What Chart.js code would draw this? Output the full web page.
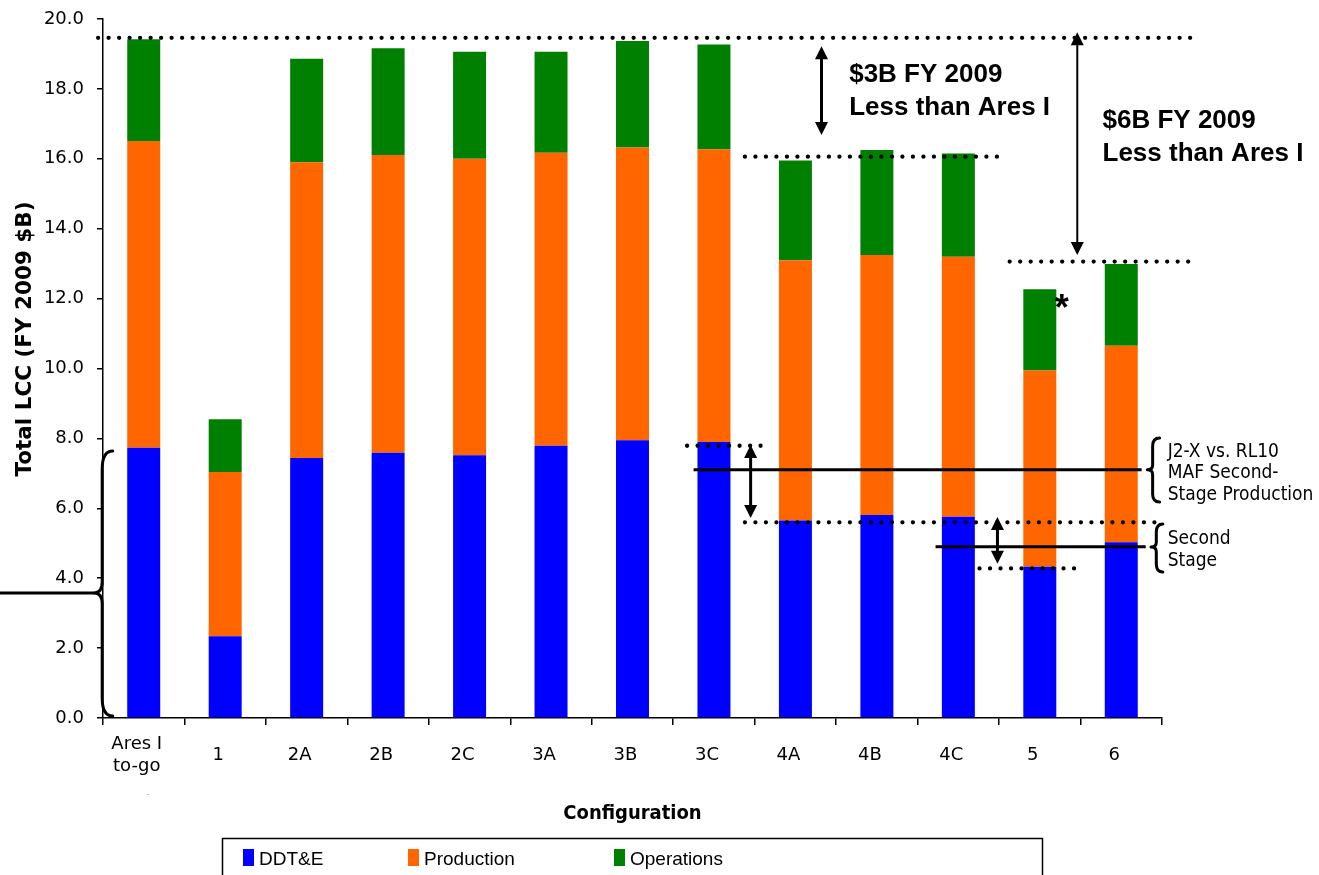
<!DOCTYPE html>
<html><head><meta charset="utf-8">
<script src="https://cdn.jsdelivr.net/npm/chart.js@4.4.1/dist/chart.umd.min.js"></script>
<style>html,body{margin:0;padding:0;background:#fff;}#wrap{width:1319px;height:875px;position:relative;overflow:hidden;}</style>
</head><body><div id="wrap"><canvas id="c" width="1319" height="875"></canvas></div>
<script>
// ---- data ----
const categories = [["Ares I","to-go"],"1","2A","2B","2C","3A","3B","3C","4A","4B","4C","5","6"];
const ddte       = [7.73, 2.34, 7.44, 7.59, 7.52, 7.79, 7.95, 7.90, 5.65, 5.81, 5.76, 4.33, 5.03];
const production = [8.78, 4.70, 8.46, 8.52, 8.48, 8.38, 8.37, 8.37, 7.45, 7.44, 7.44, 5.61, 5.62];
const operations = [2.91, 1.51, 2.96, 3.05, 3.06, 2.89, 3.05, 3.00, 2.85, 3.00, 2.95, 2.33, 2.34];
const seriesNames = ["DDT&E", "Production", "Operations"];
const yTickValues = [0, 2, 4, 6, 8, 10, 12, 14, 16, 18, 20];
const xTitle = "Configuration";
const yTitle = "Total LCC (FY 2009 $B)";

// ---- annotations (in data units: x = category index, y = $B) ----
const dottedLines = [
  {y:19.46, x0:-0.56, x1:12.94},
  {y:16.06, x0:7.38,  x1:10.54},
  {y:13.06, x0:10.63, x1:12.84},
  {y:7.79,  x0:6.67,  x1:7.59},
  {y:5.60,  x0:7.38,  x1:12.43},
  {y:4.28,  x0:10.26, x1:11.45}
];
const solidLines = [
  {y:7.10, x0:6.75, x1:12.25},
  {y:4.90, x0:9.72, x1:12.30}
];
const arrows = [
  {x:8.32,  y0:19.22, y1:16.68, w:3},
  {x:11.46, y0:19.62, y1:13.25, w:2},
  {x:7.45,  y0:7.81,  y1:5.72,  w:3},
  {x:10.48, y0:5.75,  y1:4.41,  w:3}
];
const braces = [
  {xEnd:-0.38, xSpine:-0.51, xCusp:-0.61, yTop:7.64, yMid:3.58, yBot:0.06, r:18, leader:-1.77},
  {xEnd:12.47, xSpine:12.385, xCusp:12.32, yTop:8.01, yMid:7.10, yBot:6.18, r:8},
  {xEnd:12.51, xSpine:12.43, xCusp:12.365, yTop:5.55, yMid:4.89, yBot:4.18, r:8}
];
const notes = [
  {x:8.66,  y:18.20, lines:["$3B FY 2009","Less than Ares I"], font:"bold 26px 'Liberation Sans', Arial, sans-serif", gap:33},
  {x:11.77, y:16.88, lines:["$6B FY 2009","Less than Ares I"], font:"bold 26px 'Liberation Sans', Arial, sans-serif", gap:33},
  {x:12.57, y:7.47,  lines:["J2-X vs. RL10","MAF Second-","Stage Production"], font:"19px 'DejaVu Sans Condensed', 'DejaVu Sans', sans-serif", gap:21.5},
  {x:12.57, y:4.98,  lines:["Second","Stage"], font:"19px 'DejaVu Sans Condensed', 'DejaVu Sans', sans-serif", gap:22},
  {x:11.27, y:11.40, lines:["*"], font:"bold 36px 'Liberation Sans', Arial, sans-serif", gap:0, align:"center"}
];

const colors = ["#0000FF", "#FF6600", "#008000"];

const annotPlugin = {
  id: "annot",
  afterDatasetsDraw(chart) {
    const ctx = chart.ctx, xs = chart.scales.x, ys = chart.scales.y;
    const X = v => xs.getPixelForValue(v), Y = v => ys.getPixelForValue(v);
    ctx.save();
    ctx.strokeStyle = "#000"; ctx.fillStyle = "#000";
    // dotted
    ctx.lineCap = "round"; ctx.lineWidth = 4.3; ctx.setLineDash([0, 10.5]);
    dottedLines.forEach(d => { ctx.beginPath(); ctx.moveTo(X(d.x0), Y(d.y)); ctx.lineTo(X(d.x1), Y(d.y)); ctx.stroke(); });
    ctx.setLineDash([]); ctx.lineCap = "butt";
    // solid
    ctx.lineWidth = 3;
    solidLines.forEach(d => { ctx.beginPath(); ctx.moveTo(X(d.x0), Y(d.y)); ctx.lineTo(X(d.x1), Y(d.y)); ctx.stroke(); });
    // arrows
    arrows.forEach(a => {
      const x = X(a.x), t = Y(a.y0), b = Y(a.y1), hw = 13, hl = 13;
      ctx.lineWidth = a.w;
      ctx.beginPath(); ctx.moveTo(x, t + hl - 2); ctx.lineTo(x, b - hl + 2); ctx.stroke();
      ctx.beginPath(); ctx.moveTo(x, t); ctx.lineTo(x - hw/2, t + hl); ctx.lineTo(x + hw/2, t + hl); ctx.closePath(); ctx.fill();
      ctx.beginPath(); ctx.moveTo(x, b); ctx.lineTo(x - hw/2, b - hl); ctx.lineTo(x + hw/2, b - hl); ctx.closePath(); ctx.fill();
    });
    // braces
    ctx.lineWidth = 3; ctx.lineJoin = "round"; ctx.lineCap = "round";
    braces.forEach(br => {
      const xe = X(br.xEnd), xs2 = X(br.xSpine), xc = X(br.xCusp);
      const yt = Y(br.yTop), ym = Y(br.yMid), yb = Y(br.yBot), r = br.r;
      ctx.beginPath();
      ctx.moveTo(xe, yt);
      ctx.quadraticCurveTo(xs2, yt, xs2, yt + r);
      ctx.lineTo(xs2, ym - r * 0.6);
      ctx.quadraticCurveTo(xs2, ym, xc, ym);
      ctx.quadraticCurveTo(xs2, ym, xs2, ym + r * 0.6);
      ctx.lineTo(xs2, yb - r);
      ctx.quadraticCurveTo(xs2, yb, xe, yb);
      ctx.stroke();
      if (br.leader !== undefined) {
        ctx.lineCap = "butt";
        ctx.beginPath(); ctx.moveTo(X(br.leader), ym); ctx.lineTo(xc, ym); ctx.stroke();
        ctx.lineCap = "round";
      }
    });
    // notes
    notes.forEach(n => {
      ctx.font = n.font; ctx.textAlign = n.align || "left"; ctx.textBaseline = "alphabetic";
      n.lines.forEach((s, i) => ctx.fillText(s, X(n.x), Y(n.y) + i * n.gap));
    });
    ctx.restore();
  },
  afterDraw(chart) {
    const ctx = chart.ctx;
    ctx.save();
    // y title
    ctx.translate(25, 339);
    ctx.rotate(-Math.PI / 2);
    ctx.font = "bold 21.5px 'DejaVu Sans', sans-serif";
    ctx.fillStyle = "#000"; ctx.textAlign = "center"; ctx.textBaseline = "middle";
    ctx.fillText(yTitle, 0, 0);
    ctx.restore();
    // small stray mark
    ctx.save();
    ctx.fillStyle = "#aaa"; ctx.font = "9px 'DejaVu Sans', sans-serif"; ctx.textAlign = "center";
    ctx.fillText("-", 148, 797);
    ctx.restore();
    // legend box
    ctx.save();
    ctx.strokeStyle = "#000"; ctx.lineWidth = 1.5;
    ctx.strokeRect(222.5, 838.5, 820, 60);
    const lx = [243, 408, 614];
    ctx.font = "19px 'Liberation Sans', Arial, sans-serif";
    ctx.textBaseline = "alphabetic"; ctx.textAlign = "left";
    chart.data.datasets.forEach((ds, i) => {
      ctx.fillStyle = ds.backgroundColor;
      ctx.fillRect(lx[i], 849, 11, 17);
      ctx.fillStyle = "#000";
      ctx.fillText(ds.label, lx[i] + 16, 865);
    });
    ctx.restore();
  }
};

new Chart(document.getElementById("c"), {
  type: "bar",
  data: {
    labels: categories,
    datasets: [
      {label: seriesNames[0], data: ddte, backgroundColor: colors[0]},
      {label: seriesNames[1], data: production, backgroundColor: colors[1]},
      {label: seriesNames[2], data: operations, backgroundColor: colors[2]}
    ]
  },
  options: {
    responsive: false,
    animation: false,
    layout: {padding: {top: 19, right: 157, left: 0, bottom: 0}},
    datasets: {bar: {categoryPercentage: 1.0, barPercentage: 0.405, borderWidth: 0}},
    plugins: {legend: {display: false}, tooltip: {enabled: false}},
    scales: {
      x: {
        stacked: true,
        afterFit: s => { s.height = 157; s.paddingLeft = 0; s.paddingRight = 0; },
        grid: {offset: true, drawOnChartArea: false, drawTicks: true, tickLength: 7, color: "#000", lineWidth: 1.5},
        border: {color: "#000", width: 1.5},
        ticks: {color: "#000", font: {family: "'DejaVu Sans', sans-serif", size: 18, lineHeight: 1.22}, padding: 19, labelOffset: -7, crossAlign: "center", maxRotation: 0, autoSkip: false},
        title: {display: true, text: xTitle, color: "#000", font: {family: "'DejaVu Sans Condensed', 'DejaVu Sans', sans-serif", size: 20, weight: "bold"}, padding: {top: 0, bottom: 49}}
      },
      y: {
        stacked: true, min: 0, max: 20,
        afterFit: s => { s.width = 103; s.paddingTop = 0; s.paddingBottom = 0; },
        afterBuildTicks: s => { s.ticks = yTickValues.map(v => ({value: v})); },
        grid: {drawOnChartArea: false, drawTicks: true, tickLength: 6, color: "#000", lineWidth: 1.5},
        border: {color: "#000", width: 1.5},
        ticks: {color: "#000", font: {family: "'DejaVu Sans', sans-serif", size: 18}, padding: 13, callback: v => Number(v).toFixed(1)}
      }
    }
  },
  plugins: [annotPlugin]
});
</script>
</body></html>
